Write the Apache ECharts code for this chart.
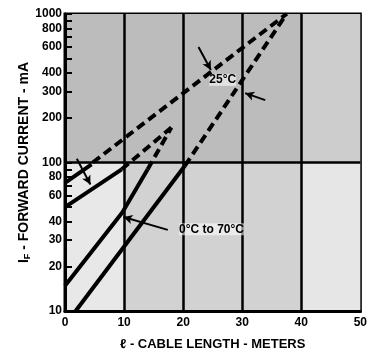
<!DOCTYPE html>
<html><head><meta charset="utf-8">
<script src="https://cdn.jsdelivr.net/npm/echarts@6/dist/echarts.min.js"></script>
<style>html,body{margin:0;padding:0;background:#fff}#c{width:370px;height:358px}</style>
</head><body><div id="c"></div>
<script>
// ---- data (x: cable length m, y: forward current mA) ----
const xTicks = [0, 10, 20, 30, 40, 50];
const yLabels = [10, 20, 30, 40, 60, 80, 100, 200, 300, 400, 600, 800, 1000];
const yTicks = [10, 20, 30, 40, 50, 60, 70, 80, 90, 100, 200, 300, 400, 500, 600, 700, 800, 900, 1000];
// 25 C outer limits
const upper25Solid = [[0, 73], [4.5, 97]];
const upper25Dash = [[4.7, 100], [37.5, 1000]];
const lower25Solid = [[1.8, 10], [20.3, 95]];
const lower25Dash = [[20.3, 95], [37.5, 1000]];
// 0 C to 70 C limits
const upper070Solid = [[0, 50], [9.6, 90]];
const upper070Dash = [[9.6, 90], [18, 172]];
const lower070Solid = [[0, 14.8], [9.7, 46], [14, 90]];
const lower070Dash = [[14, 90], [18, 172]];
// annotations
const label25 = [26.7, 360];
const label070 = [24.8, 35.5];
const arrows = [
  [[22.6, 600], [24.7, 420]],
  [[33.9, 263], [30.5, 293]],
  [[2.0, 106], [4.3, 71]]
];
const curvedArrow = [[17.4, 35.2], [9.9, 43]];
const gridX = [10, 20, 30, 40];
const gridY = [100];

const chart = echarts.init(document.getElementById('c'));
const FONT = 'Liberation Sans';
function solid(d){return {type:'line',data:d,symbol:'none',lineStyle:{color:'#000',width:4},z:5,animation:false};}
function dashed(d){return {type:'line',data:d,symbol:'none',lineStyle:{color:'#000',width:4,type:[9,5]},z:5,animation:false};}
const series = [
  solid(upper25Solid), dashed(upper25Dash), solid(lower25Solid), dashed(lower25Dash),
  solid(upper070Solid), dashed(upper070Dash), solid(lower070Solid), dashed(lower070Dash)
];
// background shading of the print (decorative)
series.push({
  type:'line', data:[], symbol:'none', animation:false, z:1,
  markArea:{silent:true, data:[
    [{coord:[0,100], itemStyle:{color:'#bcbcbc'}},{coord:[40,1000]}],
    [{coord:[40,100], itemStyle:{color:'#cdcdcd'}},{coord:[50,1000]}],
    [{coord:[0,10], itemStyle:{color:'#e8e8e8'}},{coord:[10,100]}],
    [{coord:[10,10], itemStyle:{color:'#d2d2d2'}},{coord:[40,100]}],
    [{coord:[40,10], itemStyle:{color:'#e6e6e6'}},{coord:[50,100]}]
  ]}
});
// heavy grid lines
series.push({
  type:'line', data:[], symbol:'none', animation:false, z:3,
  markLine:{silent:true, symbol:['none','none'], label:{show:false},
    lineStyle:{color:'#000',width:2.5,type:'solid'},
    data: gridX.map(v=>({xAxis:v})).concat(gridY.map(v=>({yAxis:v})))}
});
series.push({
  type:'line', data:[], symbol:'none', animation:false, z:7,
  markLine:{silent:true, symbol:['none','arrow'], symbolSize:[7,9], label:{show:false},
    lineStyle:{color:'#000',width:2,type:'solid'},
    data: arrows.map(a=>[{coord:a[0]},{coord:a[1]}])
  },
  markPoint:{silent:true, symbol:'rect', symbolSize:0,
    label:{show:true, color:'#000', fontFamily:FONT, fontWeight:'bold', fontSize:12},
    data:[
      {coord:label25, value:'25°C', label:{formatter:'25°C', backgroundColor:'rgba(255,255,255,0.55)'}},
      {coord:label070, value:'0°C to 70°C', label:{formatter:'0°C to 70°C', backgroundColor:'rgba(255,255,255,0.55)'}}
    ]}
});
series.push({
  type:'line', data:[], symbol:'none', animation:false, z:7,
  markLine:{silent:true, symbol:['none','arrow'], symbolSize:[7,9], label:{show:false},
    lineStyle:{color:'#000',width:2,type:'solid',curveness:0.35},
    data:[[{coord:curvedArrow[0]},{coord:curvedArrow[1]}]]
  }
});
chart.setOption({
  animation:false,
  grid:{left:65, right:7, top:14, bottom:47, show:true, backgroundColor:'#cbcbcb', borderColor:'#000', borderWidth:3, z:0},
  xAxis:{type:'value', min:xTicks[0], max:xTicks[xTicks.length-1], interval:10, z:4,
    name:'ℓ - CABLE LENGTH - METERS', nameLocation:'middle', nameGap:27, nameMoveOverlap:false,
    nameTextStyle:{color:'#000', fontFamily:FONT, fontWeight:'bold', fontSize:13},
    axisLine:{lineStyle:{color:'#000', width:3}}, axisTick:{show:false},
    axisLabel:{color:'#000', fontFamily:FONT, fontWeight:'bold', fontSize:12, margin:6},
    splitLine:{show:false}},
  yAxis:{type:'log', logBase:10, min:10, max:1000, z:4,
    name:'{a|I}{s|F}{a| - FORWARD CURRENT - mA}', nameLocation:'middle', nameGap:33, nameMoveOverlap:false,
    nameTextStyle:{color:'#000', rich:{a:{fontFamily:FONT, fontWeight:'bold', fontSize:14, color:'#000'}, s:{fontFamily:FONT, fontWeight:'bold', fontSize:9, color:'#000', verticalAlign:'bottom', padding:[6,0,0,0]}}},
    axisLine:{lineStyle:{color:'#000', width:3}},
    axisTick:{show:true, inside:true, length:7, lineStyle:{color:'#000', width:2}, customValues:yTicks},
    axisLabel:{color:'#000', fontFamily:FONT, fontWeight:'bold', fontSize:12, margin:3, customValues:yLabels, formatter:v=>String(Math.round(v))},
    splitLine:{show:false}, minorTick:{show:false}},
  series: series
});
</script></body></html>
